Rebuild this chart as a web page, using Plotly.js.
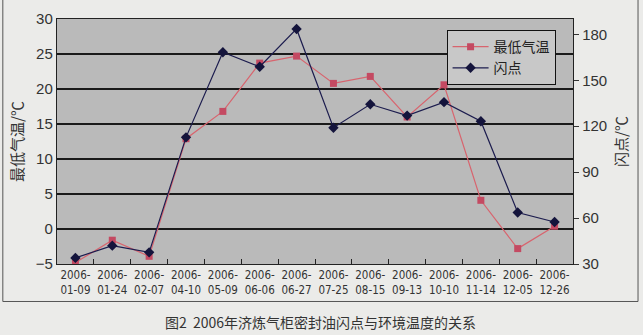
<!DOCTYPE html>
<html><head><meta charset="utf-8">
<script src="https://cdn.plot.ly/plotly-3.0.1.min.js"></script>
<style>html,body{margin:0;padding:0;background:#ebebe9;}#c{width:643px;height:335px;}</style>
</head><body><div id="c"></div>
<script>
var categories = ["2006-01-09","2006-01-24","2006-02-07","2006-04-10","2006-05-09","2006-06-06","2006-06-27","2006-07-25","2006-08-15","2006-09-13","2006-10-10","2006-11-14","2006-12-05","2006-12-26"];
var tickLabels = ["2006-<br>01-09","2006-<br>01-24","2006-<br>02-07","2006-<br>04-10","2006-<br>05-09","2006-<br>06-06","2006-<br>06-27","2006-<br>07-25","2006-<br>08-15","2006-<br>09-13","2006-<br>10-10","2006-<br>11-14","2006-<br>12-05","2006-<br>12-26"];
var minTemp = [-4.8, -1.6, -3.9, 12.9, 16.8, 23.7, 24.7, 20.8, 21.8, 16.0, 20.6, 4.1, -2.8, 0.4];
var flashPoint = [34.0, 42.0, 37.6, 112.7, 168.3, 158.8, 183.5, 119.0, 134.3, 126.9, 135.7, 123.2, 63.6, 57.4];

var CJK = "Noto Sans CJK SC, sans-serif";
var NUM = "Liberation Sans, Arial, sans-serif";
var NARROW = "Liberation Sans Narrow, DejaVu Sans Condensed, sans-serif";

var traces = [
  {x: categories, y: minTemp, name: "最低气温", type: "scatter", mode: "lines+markers",
   line: {color: "#d8646e", width: 1.2}, marker: {symbol: "square", size: 7, color: "#c44a62"}, yaxis: "y"},
  {x: categories, y: flashPoint, name: "闪点", type: "scatter", mode: "lines+markers",
   line: {color: "#1c1c4e", width: 1.2}, marker: {symbol: "diamond", size: 8, color: "#14143c"}, yaxis: "y2"}
];

var layout = {
  width: 643, height: 335,
  margin: {l: 57, r: 70, t: 19, b: 71},
  paper_bgcolor: "#ebebe9",
  plot_bgcolor: "#bababa",
  showlegend: true,
  legend: {x: 0.755, y: 0.955, xanchor: "left", yanchor: "top", bgcolor: "#c8c8c8",
           bordercolor: "#111", borderwidth: 1, font: {family: CJK, size: 14, color: "#222"},
           tracegroupgap: 0, itemwidth: 36},
  xaxis: {type: "category", range: [-0.5, 13.5], tickmode: "array", tickvals: categories, ticktext: tickLabels,
          ticks: "inside", ticklen: 5, tickcolor: "#222", tickson: "boundaries",
          showgrid: false, showline: true, linecolor: "#222", linewidth: 1.2, mirror: true,
          tickfont: {family: NARROW, size: 11.5, color: "#333"}, tickangle: 0, zeroline: false},
  yaxis: {range: [-5, 30], dtick: 5, tick0: -5, showgrid: true, gridcolor: "#1a1a1a", gridwidth: 1.2,
          zeroline: false, showline: true, linecolor: "#222", linewidth: 1.2, ticks: "",
          tickfont: {family: NUM, size: 15, color: "#333"},
          title: {text: "最低气温/℃", font: {family: CJK, size: 15, color: "#333"}, standoff: 8}},
  yaxis2: {range: [30, 190], tickvals: [30, 60, 90, 120, 150, 180], overlaying: "y", side: "right",
           showgrid: false, zeroline: false, showline: true, linecolor: "#222", linewidth: 1.2,
           ticks: "outside", ticklen: 5, tickcolor: "#333",
           tickfont: {family: NUM, size: 15, color: "#333"},
           title: {text: "闪点/℃", font: {family: CJK, size: 15, color: "#333"}, standoff: 10}},
  shapes: [
    {type: "rect", xref: "paper", yref: "paper", x0: -0.105, x1: 1.126, y0: -0.153, y1: 1.2,
     line: {color: "#555", width: 1}, fillcolor: "rgba(0,0,0,0)", layer: "below"}
  ],
  annotations: [
    {text: "图2  2006年济炼气柜密封油闪点与环境温度的关系", xref: "paper", yref: "paper",
     x: 0.51, y: -0.237, xanchor: "center", yanchor: "middle", showarrow: false,
     font: {family: CJK, size: 14, color: "#333"}}
  ]
};

Plotly.newPlot("c", traces, layout, {displayModeBar: false, staticPlot: true});
</script>
</body></html>
